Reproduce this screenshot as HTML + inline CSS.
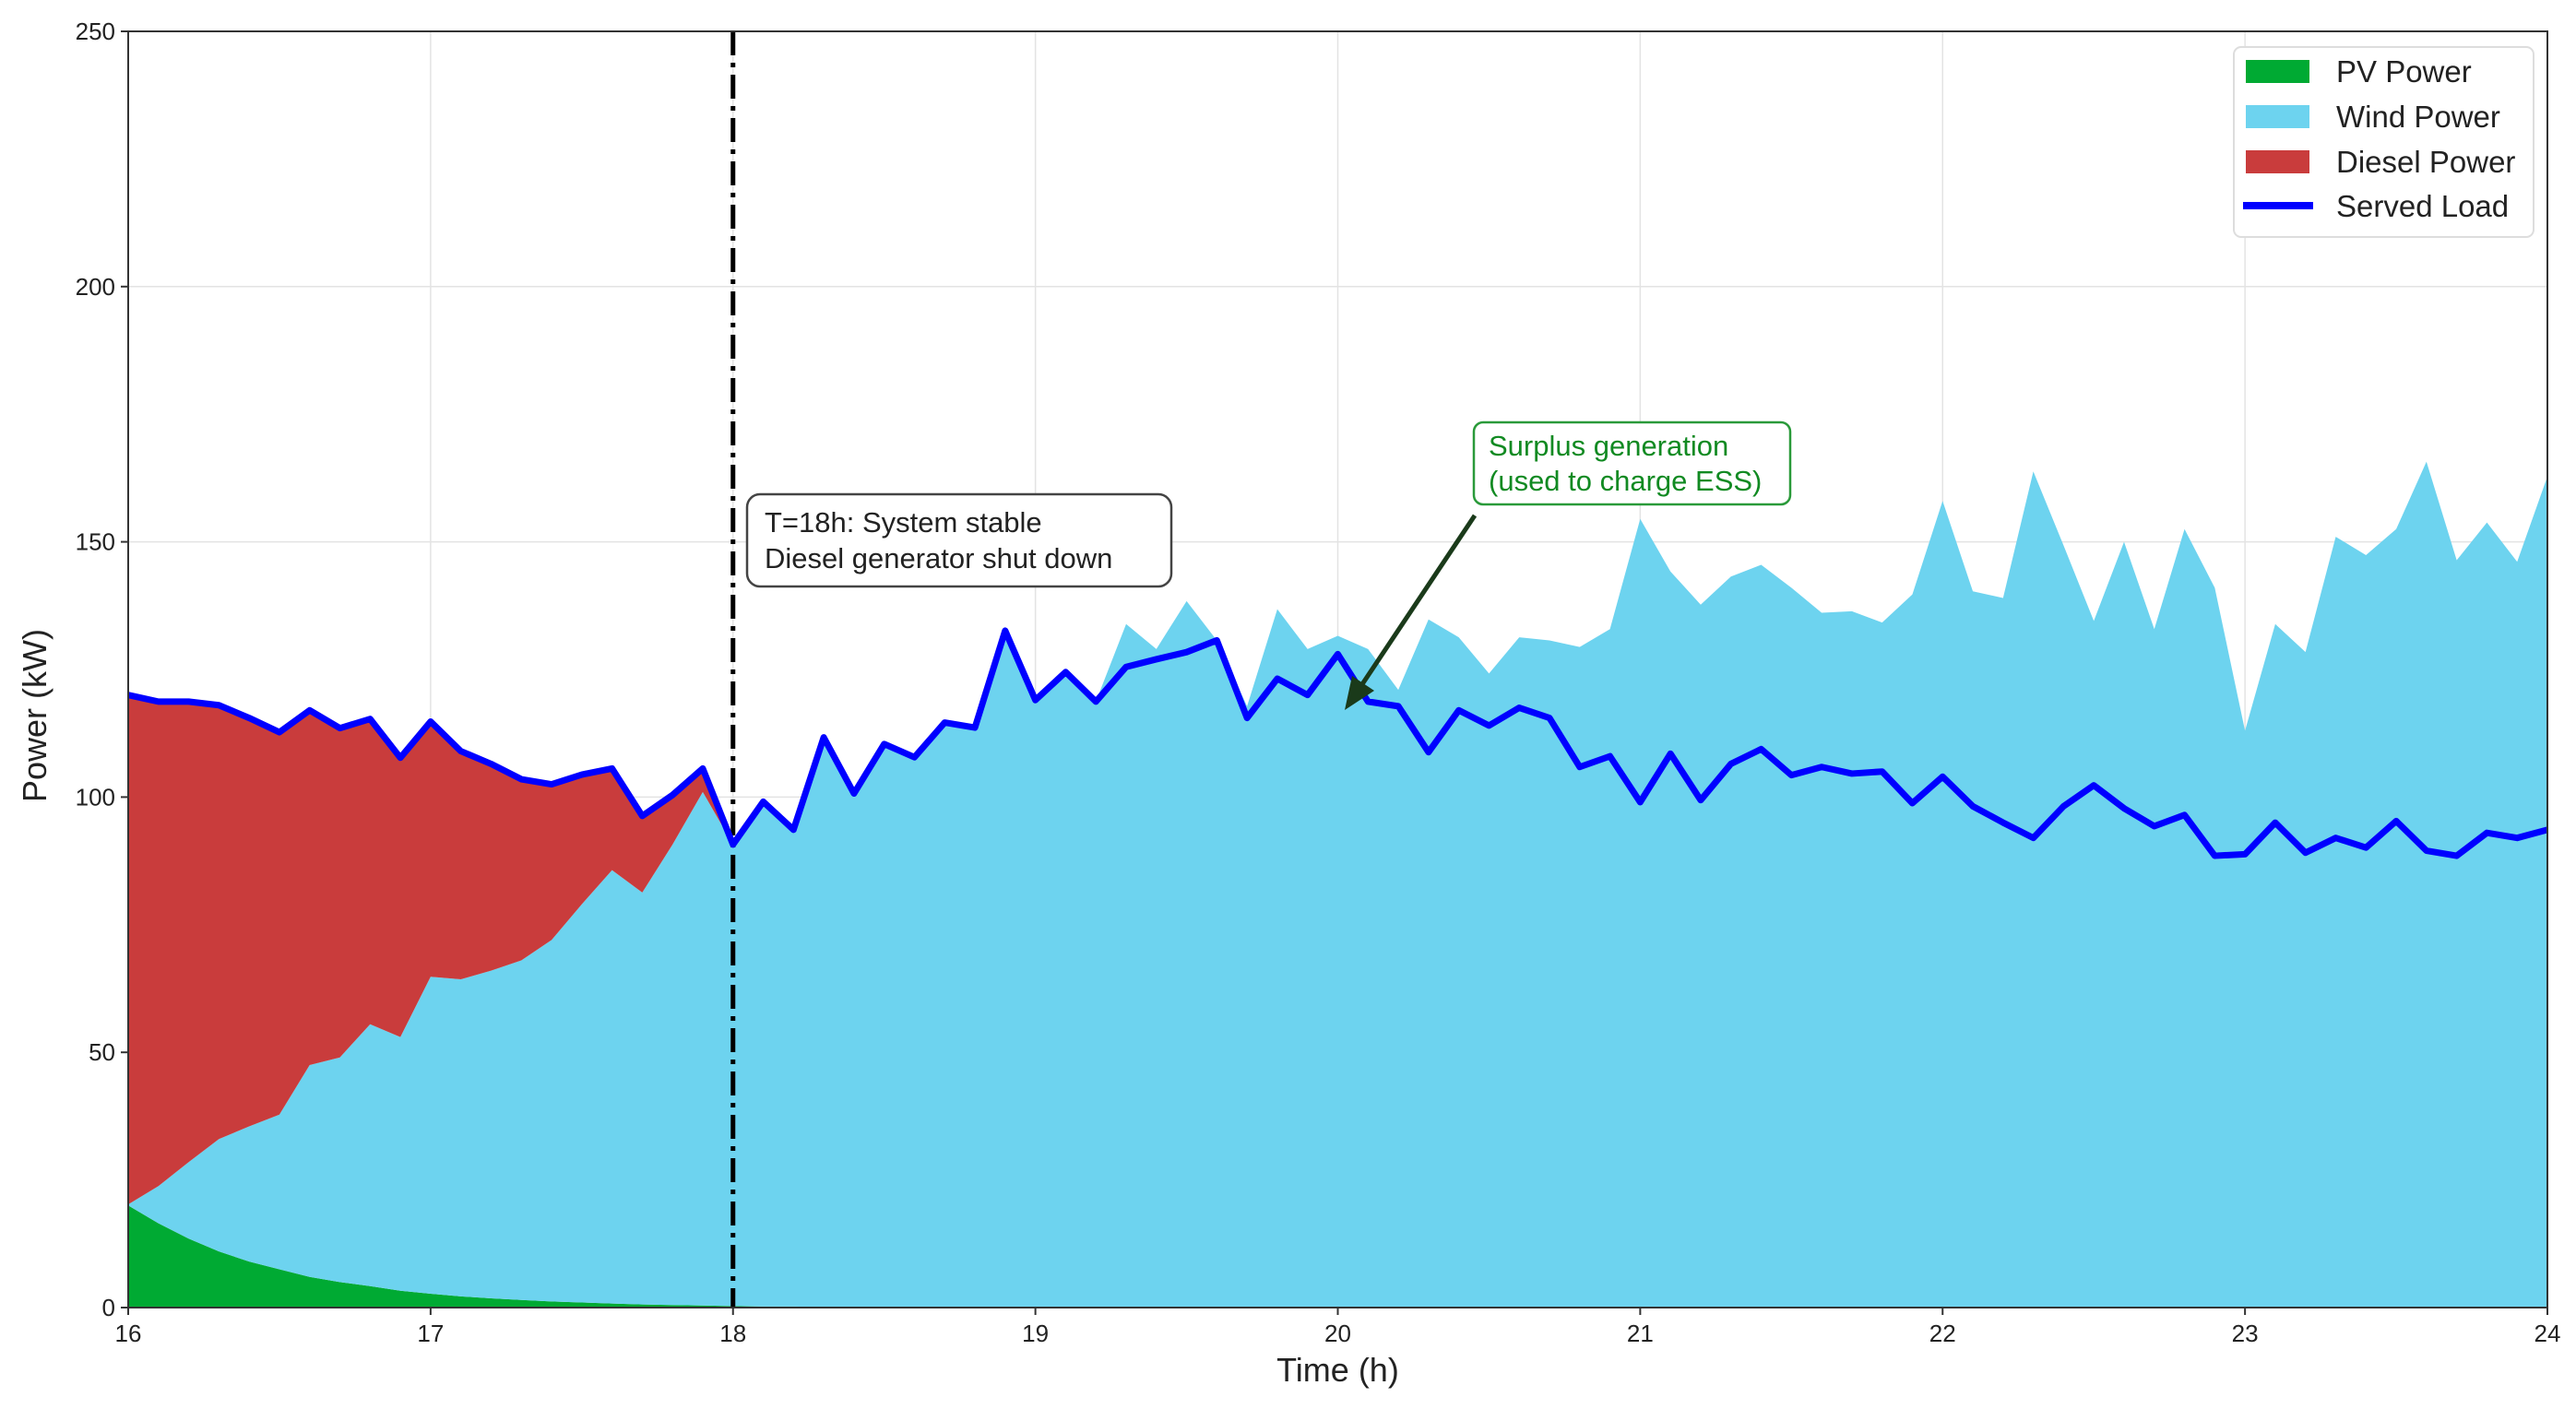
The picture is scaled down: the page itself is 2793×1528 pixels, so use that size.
<!DOCTYPE html>
<html><head><meta charset="utf-8"><style>
html,body{margin:0;padding:0;background:#fff;}
svg{display:block;font-family:"Liberation Sans",sans-serif;}
</style></head><body>
<svg id="chart" width="2793" height="1528" viewBox="0 0 2793 1528"></svg>
<script>
const times = [];
for (let i = 0; i <= 80; i++) times.push(16 + i / 10);
const pv = [20,16.5,13.5,11,9,7.5,6,5,4.2,3.3,2.7,2.2,1.8,1.5,1.2,1,0.8,0.6,0.5,0.4,0.3,
0.2,0.2,0.1,0.1,0.1,0,0,0,0,0,0,0,0,0,0,0,0,0,0,0,0,0,0,0,0,0,0,0,0,0,0,0,0,0,0,0,0,0,0,0,0,0,0,0,0,0,0,0,0,0,0,0,0,0,0,0,0,0,0,0];
const wind = [0.2,7.3,15,22,26.5,30.3,41.5,44,51.3,49.7,62.1,62.1,64.2,66.5,70.8,78,84.9,80.7,90.2,100.6,90.4,
98.9,93.4,111.6,100.6,110.3,107.8,114.6,113.6,132.6,119,124.5,118.7,
133.9,129,138.4,130.7,117.8,136.8,129,131.6,129,121,134.8,131.3,124.2,131.3,130.7,129.4,132.9,
154.5,144.2,137.7,143.2,145.5,141,136.1,136.4,134.2,139.7,
158,140.3,139,163.8,149.3,134.5,150,132.9,152.5,141,
113,133.9,128.4,151,147.4,152.5,165.7,146.4,153.8,146.1,162.8];
const diesel = [99.8,94.9,90.2,85,80,74.9,69.5,64.5,59.8,54.7,50,44.7,40.5,35.5,30.5,25.4,19.9,15,9.7,4.6,0,
0,0,0,0,0,0,0,0,0,0,0,0,0,0,0,0,0,0,0,0,0,0,0,0,0,0,0,0,0,0,0,0,0,0,0,0,0,0,0,0,0,0,0,0,0,0,0,0,0,0,0,0,0,0,0,0,0,0,0,0];
const load = [120,118.7,118.7,118,115.5,112.7,117,113.5,115.3,107.7,114.8,109,106.5,103.5,102.5,104.4,105.6,96.3,100.4,105.6,90.7,
99.1,93.6,111.7,100.7,110.4,107.8,114.6,113.6,132.6,119,124.5,118.7,125.5,127,128.4,130.7,115.5,123.2,120,
128,118.7,117.8,108.8,117,114,117.5,115.5,105.9,108,
99,108.5,99.4,106.5,109.4,104.3,105.9,104.6,105,98.8,
104,98.2,95,92,98.2,102.3,97.8,94.3,96.5,88.5,
88.8,95,89.1,92,90.1,95.3,89.5,88.5,93,92,93.6];
const xTicks = [16,17,18,19,20,21,22,23,24];
const yTicks = [0,50,100,150,200,250];

const L=139,R=2762,T=34,B=1418;
const xs = t => L + (t-16)/8*(R-L);
const ys = v => B - v/250*(B-T);
const NS="http://www.w3.org/2000/svg";
const svg=document.getElementById('chart');
function mk(tag,attrs,parent){const e=document.createElementNS(NS,tag);for(const k in attrs)e.setAttribute(k,attrs[k]);(parent||svg).appendChild(e);return e;}

yTicks.forEach(v=>{const g=mk('line',{x1:L,x2:R,y1:ys(v),y2:ys(v),stroke:'#e3e3e3','stroke-width':1.5});

});
xTicks.forEach(t=>{const g=mk('line',{x1:xs(t),x2:xs(t),y1:T,y2:B,stroke:'#e3e3e3','stroke-width':1.5});

});

const base0=times.map(()=>0);
const s1=pv.map(v=>v);
const s2=s1.map((v,i)=>v+wind[i]);
const s3=s2.map((v,i)=>v+diesel[i]);
function area(lo,hi,color,name){
  let d='M'+times.map((t,i)=>xs(t)+','+ys(hi[i])).join(' L');
  for(let i=times.length-1;i>=0;i--) d+=' L'+xs(times[i])+','+ys(lo[i]);
  d+='Z';
  const p=mk('path',{d:d,fill:color,stroke:'none'});
  
  
}
area(base0,s1,'#00aa33','pv-area');
area(s1,s2,'#6dd3ef','wind-area');
area(s2,s3,'#c93c3c','diesel-area');

const vl=mk('line',{x1:xs(18),x2:xs(18),y1:T,y2:B,stroke:'#000','stroke-width':5,'stroke-dasharray':'26,8,5,8'});



const ll=mk('polyline',{points:times.map((t,i)=>xs(t)+','+ys(load[i])).join(' '),fill:'none',stroke:'#0000ff','stroke-width':7,'stroke-linejoin':'round'});



const fr=mk('rect',{x:L,y:T,width:R-L,height:B-T,fill:'none',stroke:'#333','stroke-width':2});



yTicks.forEach(v=>{mk('line',{x1:L-8,x2:L,y1:ys(v),y2:ys(v),stroke:'#333','stroke-width':2});
const tx=mk('text',{x:L-14,y:ys(v)+9,'text-anchor':'end','font-size':26,fill:'#222'});tx.textContent=v;

});
xTicks.forEach(t=>{mk('line',{x1:xs(t),x2:xs(t),y1:B,y2:B+8,stroke:'#333','stroke-width':2});
const tx=mk('text',{x:xs(t),y:B+37,'text-anchor':'middle','font-size':26,fill:'#222'});tx.textContent=t;

});

const xt=mk('text',{x:(L+R)/2,y:1498,'text-anchor':'middle','font-size':36,fill:'#222'});xt.textContent='Time (h)';


const yt=mk('text',{x:50,y:(T+B)/2+50,'text-anchor':'middle','font-size':36,fill:'#222',transform:'rotate(-90 50 '+((T+B)/2+50)+')'});yt.textContent='Power (kW)';



const a1=mk('g',{});


mk('rect',{x:810,y:536,width:460,height:100,rx:14,fill:'#fff',stroke:'#444','stroke-width':2.5},a1);
const t1=mk('text',{x:829,y:577,'font-size':31,fill:'#222'},a1);t1.textContent='T=18h: System stable';
const t2=mk('text',{x:829,y:616,'font-size':31,fill:'#222'},a1);t2.textContent='Diesel generator shut down';

const a2=mk('g',{});


mk('rect',{x:1598,y:458,width:343,height:89,rx:10,fill:'#fff',stroke:'#2a9a3a','stroke-width':2.5},a2);
const t3=mk('text',{x:1614,y:494,'font-size':31,fill:'#118a22'},a2);t3.textContent='Surplus generation';
const t4=mk('text',{x:1614,y:532,'font-size':31,fill:'#118a22'},a2);t4.textContent='(used to charge ESS)';
mk('line',{x1:1599,y1:559,x2:1475,y2:745,stroke:'#1a3a1a','stroke-width':5},a2);
mk('polygon',{points:'1458,770 1466,733 1490,749',fill:'#1a3a1a'},a2);

const lg=mk('g',{});


mk('rect',{x:2422,y:51,width:325,height:206,rx:8,fill:'#fff',stroke:'#ddd','stroke-width':2},lg);
const names=['PV Power','Wind Power','Diesel Power','Served Load'];
const cols=['#00aa33','#6dd3ef','#c93c3c','#0000ff'];
const rows=[77,126,175,223];
names.forEach((n,i)=>{
  const g=mk('g',{},lg);
  
  
  if(i<3) mk('rect',{x:2435,y:rows[i]-12,width:69,height:25,fill:cols[i]},g);
  else mk('line',{x1:2432,x2:2508,y1:rows[i],y2:rows[i],stroke:cols[i],'stroke-width':8},g);
  const t=mk('text',{x:2533,y:rows[i]+12,'font-size':33,fill:'#222'},g);t.textContent=n;
});
</script>
</body></html>
